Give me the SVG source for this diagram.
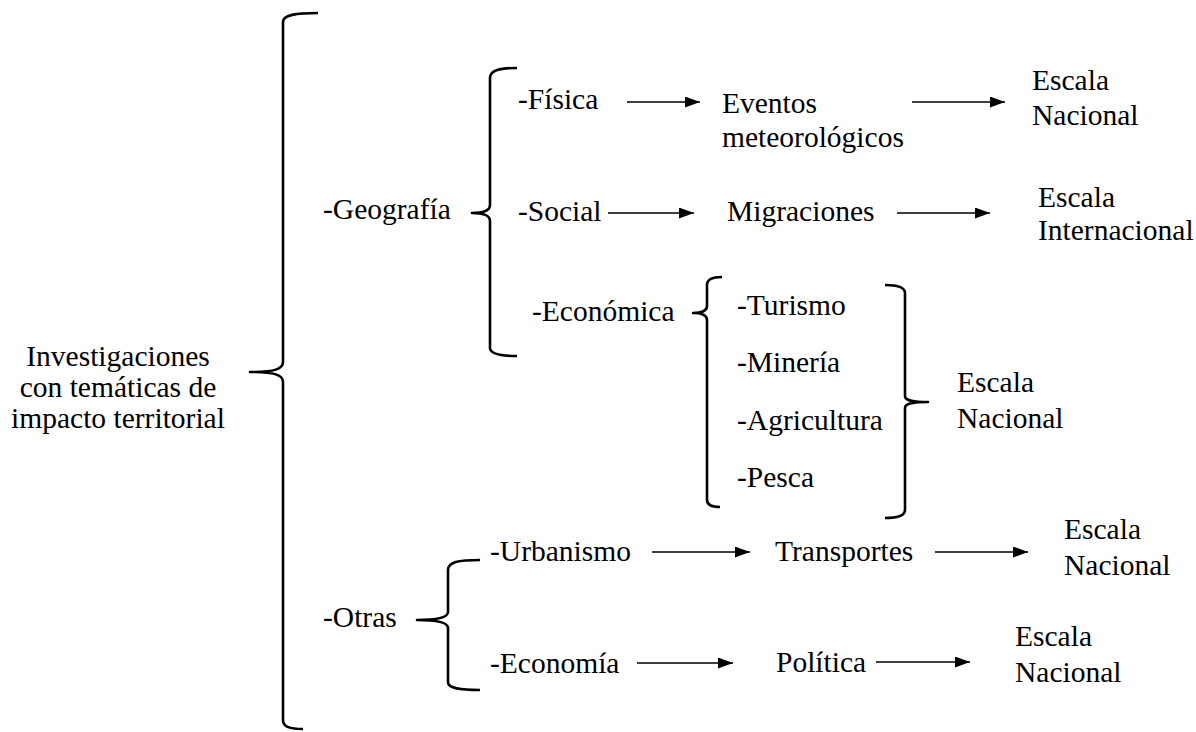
<svg xmlns="http://www.w3.org/2000/svg" width="1196" height="732" viewBox="0 0 1196 732" font-family="'Liberation Serif', 'Times New Roman', Times, serif">
<style>
text{font-family:'Liberation Serif','Times New Roman',Times,serif;font-size:29.5px;fill:#000}
.c{text-anchor:middle}
.br{fill:none;stroke:#000;stroke-width:2.6;stroke-linejoin:round;stroke-linecap:butt}
.ar{fill:none;stroke:#000;stroke-width:1.5}
</style>
<defs>
<marker id="ah" markerWidth="15" markerHeight="11" refX="15" refY="5.5" orient="auto" markerUnits="userSpaceOnUse"><path d="M0,0 L15,5.5 L0,11 z" fill="#000"/></marker>
</defs>
<rect width="1196" height="732" fill="#fff"/>
<g id="connectors">
<path class="br" d="M318,13 C295,13 283,15 283,22 L283,362 C283,369 275,372 250,372 C275,372 283,375 283,382 L283,720 C283,727 290,729 303,729"/>
<path class="br" d="M517,68 C500,68 490,70 490,78 L490,205 C490,210 485,213 472,213 C485,213 490,216 490,221 L490,348 C490,354 500,356 517,356"/>
<path class="br" d="M722,277 C712,277 707,279 707,285 L707,306 C707,311 703,313 693,313 C703,313 707,315 707,320 L707,500 C707,505 712,507 720,507"/>
<path class="br" d="M885,285 C898,285 905,287 905,293 L905,396 C905,400 910,402 928,402 C910,402 905,404 905,408 L905,510 C905,516 898,518 885,518"/>
<path class="br" d="M480,560 C458,560 448,562 448,570 L448,612 C448,617 440,620 417,620 C440,620 448,623 448,628 L448,682 C448,688 458,690 480,690"/>
<line class="ar" x1="627" y1="102" x2="700" y2="102" marker-end="url(#ah)"/>
<line class="ar" x1="912" y1="102" x2="1005" y2="102" marker-end="url(#ah)"/>
<line class="ar" x1="608" y1="213" x2="694" y2="213" marker-end="url(#ah)"/>
<line class="ar" x1="897" y1="213" x2="990" y2="213" marker-end="url(#ah)"/>
<line class="ar" x1="652" y1="552" x2="750" y2="552" marker-end="url(#ah)"/>
<line class="ar" x1="935" y1="552" x2="1028" y2="552" marker-end="url(#ah)"/>
<line class="ar" x1="637" y1="663" x2="733" y2="663" marker-end="url(#ah)"/>
<line class="ar" x1="876" y1="662" x2="970" y2="662" marker-end="url(#ah)"/>
</g>
<g id="root"><text class="c" x="118" y="366">Investigaciones</text><text class="c" x="118" y="397">con temáticas de</text><text class="c" x="118" y="428">impacto territorial</text></g>
<g id="geografia"><text x="323" y="219">-Geografía</text></g>
<g id="fisica"><text x="518" y="109">-Física</text></g>
<g id="eventos"><text x="722" y="113">Eventos</text><text x="722" y="147">meteorológicos</text></g>
<g id="escala1"><text x="1032" y="90">Escala</text><text x="1032" y="125">Nacional</text></g>
<g id="social"><text x="518" y="221">-Social</text></g>
<g id="migraciones"><text x="727" y="221">Migraciones</text></g>
<g id="escala2"><text x="1038" y="207">Escala</text><text x="1038" y="240">Internacional</text></g>
<g id="economica"><text x="532" y="321">-Económica</text></g>
<g id="turismo"><text x="737" y="315">-Turismo</text></g>
<g id="mineria"><text x="737" y="372">-Minería</text></g>
<g id="agricultura"><text x="737" y="430">-Agricultura</text></g>
<g id="pesca"><text x="737" y="487">-Pesca</text></g>
<g id="escala3"><text x="957" y="392">Escala</text><text x="957" y="428">Nacional</text></g>
<g id="otras"><text x="323" y="627">-Otras</text></g>
<g id="urbanismo"><text x="490" y="561">-Urbanismo</text></g>
<g id="transportes"><text x="775" y="561">Transportes</text></g>
<g id="escala4"><text x="1064" y="539">Escala</text><text x="1064" y="575">Nacional</text></g>
<g id="economia"><text x="490" y="673">-Economía</text></g>
<g id="politica"><text x="776" y="672">Política</text></g>
<g id="escala5"><text x="1015" y="646">Escala</text><text x="1015" y="682">Nacional</text></g>
</svg>
